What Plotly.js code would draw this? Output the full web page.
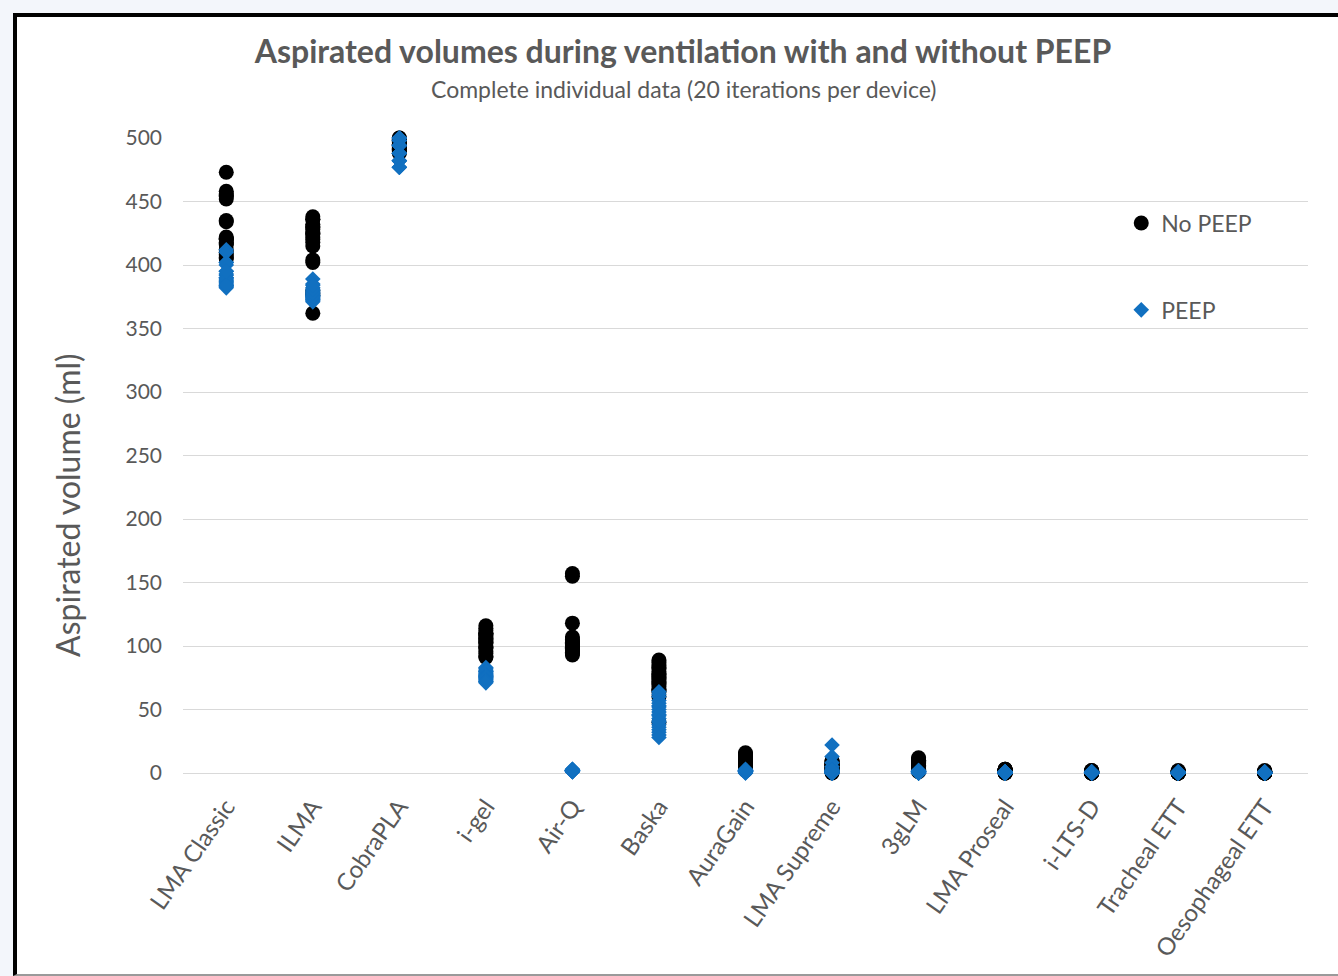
<!DOCTYPE html>
<html><head><meta charset="utf-8">
<script src="https://cdn.plot.ly/plotly-3.0.1.min.js"></script>
<style>
html,body{margin:0;padding:0;background:#f3f6fb;width:1338px;height:976px;overflow:hidden;}
#frame{position:absolute;left:13px;top:13px;width:1340px;height:963px;background:#fff;border-left:4px solid #000;border-top:4px solid #000;border-bottom:2px solid #9a9a9a;box-sizing:border-box;}
#chart{position:absolute;left:0;top:0;width:1338px;height:976px;}
</style></head>
<body>
<div id="frame"></div>
<div id="chart"></div>
<script>
const devices = ["LMA Classic","ILMA","CobraPLA","i-gel","Air-Q","Baska","AuraGain","LMA Supreme","3gLM","LMA Proseal","i-LTS-D","Tracheal ETT","Oesophageal ETT"];

// No PEEP (20 iterations per device)
const lmaClassicNoPeep = [473,458,456,454,452,435,434,422,421,420,418,416,412,410,408,406,405,420,455,417];
const ilmaNoPeep       = [438,436,432,430,428,426,424,422,418,415,404,402,380,378,376,362,430,420,425,436];
const cobraNoPeep      = [500,499,498,497,496,495,494,493,492,491,490,489,488,500,497,495,493,491,490,498];
const igelNoPeep       = [116,114,112,110,109,108,107,106,105,104,103,102,100,99,98,96,94,92,91,110];
const airQNoPeep       = [157,155,118,107,105,104,103,102,101,100,99,98,97,96,95,94,93,100,102,98];
const baskaNoPeep      = [89,87,85,82,80,78,76,75,74,72,70,68,66,65,64,60,40,78,83,71];
const auraGainNoPeep   = [16,15,14,13,12,11,10,9,8,7,6,5,4,3,12,10,8,14,6,2];
const supremeNoPeep    = [10,9,8,8,7,6,6,5,5,4,4,3,3,2,2,1,1,0,6,7];
const gLMNoPeep        = [12,11,10,9,8,7,6,5,4,3,2,10,8,6,4,2,1,9,7,5];
const prosealNoPeep    = [3,2,2,1,1,0,0,2,3,1,1,2,0,1,2,3,1,0,2,1];
const iltsdNoPeep      = [1,1,0,0,1,2,0,1,1,0,0,1,2,1,0,1,0,1,1,0];
const trachealNoPeep   = [1,0,1,0,1,1,0,0,1,2,0,1,0,1,1,0,0,1,0,1];
const oesophNoPeep     = [1,1,0,0,1,0,1,2,0,1,0,1,1,0,0,1,0,1,1,0];

// PEEP (20 iterations per device)
const lmaClassicPeep = [412,410,402,400,395,392,390,388,386,385,384,383,382,390,393,387,389,384,402,395];
const ilmaPeep       = [389,385,380,378,376,375,374,373,372,371,377,379,382,374,376,373,375,378,381,384];
const cobraPeep      = [500,498,494,494,488,488,482,482,477,477,500,494,488,482,477,498,494,488,482,500];
const igelPeep       = [83,82,81,80,80,79,78,78,77,77,76,76,75,75,74,74,73,72,72,71];
const airQPeep       = [2,2,2,1,2,3,2,1,2,2,2,1,2,3,2,2,1,2,2,2];
const baskaPeep      = [64,62,60,57,55,53,50,48,45,43,40,38,36,34,32,30,28,52,46,41];
const auraGainPeep   = [2,1,2,1,2,3,1,2,0,1,2,1,2,1,2,1,0,2,1,2];
const supremePeep    = [22,13,8,5,3,2,1,1,0,0,0,1,2,0,1,0,0,1,0,2];
const gLMPeep        = [1,0,1,2,0,1,0,1,1,0,2,1,0,0,1,1,0,1,0,1];
const prosealPeep    = [0,0,1,0,0,1,0,0,0,1,0,0,0,0,1,0,0,0,1,0];
const iltsdPeep      = [0,0,0,1,0,0,0,0,1,0,0,0,0,0,0,1,0,0,0,0];
const trachealPeep   = [0,0,0,0,1,0,0,0,0,0,0,1,0,0,0,0,0,0,0,0];
const oesophPeep     = [0,0,0,0,0,0,1,0,0,0,0,0,0,1,0,0,0,0,0,0];

const noPeepSets = [lmaClassicNoPeep, ilmaNoPeep, cobraNoPeep, igelNoPeep, airQNoPeep, baskaNoPeep, auraGainNoPeep, supremeNoPeep, gLMNoPeep, prosealNoPeep, iltsdNoPeep, trachealNoPeep, oesophNoPeep];
const peepSets = [lmaClassicPeep, ilmaPeep, cobraPeep, igelPeep, airQPeep, baskaPeep, auraGainPeep, supremePeep, gLMPeep, prosealPeep, iltsdPeep, trachealPeep, oesophPeep];

function flatten(sets){
  const x = [], y = [];
  sets.forEach((vals, i) => vals.forEach(v => { x.push(devices[i]); y.push(v); }));
  return {x, y};
}
const np = flatten(noPeepSets);
const pp = flatten(peepSets);

const grey = '#595959';
const font = 'Lato, "Open Sans", sans-serif';

const traces = [
  {type:'scatter', mode:'markers', name:'No PEEP', x:np.x, y:np.y, legendgroup:'a',
   marker:{symbol:'circle', size:15, color:'#000000', line:{width:0}}, cliponaxis:false},
  {type:'scatter', mode:'markers', name:'PEEP', x:pp.x, y:pp.y, legendgroup:'b',
   marker:{symbol:'diamond', size:12, color:'#1170c0', line:{width:0}}, cliponaxis:false}
];

const layout = {
  width:1338, height:976,
  paper_bgcolor:'rgba(0,0,0,0)', plot_bgcolor:'rgba(0,0,0,0)',
  margin:{l:183, r:30, t:138, b:203},
  font:{family:font, color:grey},
  title:{text:'Aspirated volumes during ventilation with and without PEEP',
    font:{family:font, size:32, color:grey, weight:700},
    xref:'container', x:683/1338, xanchor:'center', yref:'container', y:1-52/976, yanchor:'middle'},
  xaxis:{type:'category', categoryorder:'array', categoryarray:devices, range:[-0.5,12.5],
    showgrid:false, zeroline:false, showline:false, ticks:'', tickangle:-55,
    ticklabelstandoff:14, tickfont:{family:font, size:24, color:grey}},
  yaxis:{range:[0,500], dtick:50, showgrid:true, gridcolor:'#d9d9d9', gridwidth:1,
    zeroline:true, zerolinecolor:'#d9d9d9', zerolinewidth:1, showline:false, ticks:'',
    ticklabelstandoff:20, tickfont:{family:font, size:21, color:grey}},
  showlegend:true,
  legend:{x:0.834, xanchor:'left', y:0.9, yanchor:'top', bgcolor:'rgba(0,0,0,0)',
    font:{family:font, size:23, color:grey}, traceorder:'grouped', tracegroupgap:54},
  annotations:[
    {text:'Complete individual data (20 iterations per device)', xref:'paper', yref:'paper',
     x:(683-183)/1125, y:(773-89)/635, xanchor:'center', yanchor:'middle', showarrow:false,
     font:{family:font, size:23, color:grey}},
    {text:'Aspirated volume (ml)', xref:'paper', yref:'paper', textangle:-90,
     x:(68-183)/1125, y:(773-505)/635, xanchor:'center', yanchor:'middle', showarrow:false,
     font:{family:font, size:32, color:grey}}
  ]
};

Plotly.newPlot('chart', traces, layout, {displayModeBar:false, staticPlot:true});
</script>
</body></html>
